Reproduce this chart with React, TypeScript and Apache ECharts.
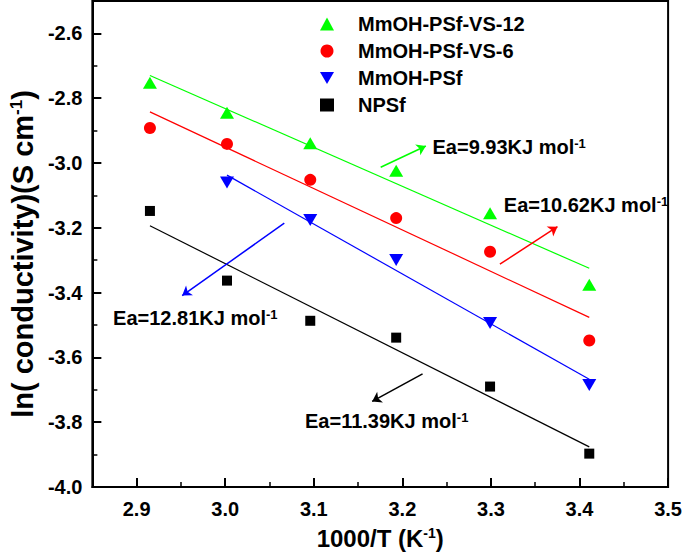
import React, { useEffect, useRef } from 'react';
import * as echarts from 'echarts';

const FONT = "'Liberation Sans', Arial, Helvetica, sans-serif";

// 1000/T values (K^-1)
const xValues = [2.915, 3.002, 3.096, 3.193, 3.299, 3.411];
const xValuesMmOH = [3.002, 3.096, 3.193, 3.299, 3.411];

// ln(conductivity) values
const vs12Values = [-2.752, -2.845, -2.939, -3.024, -3.155, -3.376];
const vs6Values = [-2.892, -2.941, -3.052, -3.170, -3.274, -3.548];
const mmohValues = [-3.060, -3.176, -3.299, -3.494, -3.685];
const npsfValues = [-3.148, -3.363, -3.487, -3.539, -3.690, -3.897];

const seriesNames = ['MmOH-PSf-VS-12', 'MmOH-PSf-VS-6', 'MmOH-PSf', 'NPSf'];
const seriesColors = ['#00ff00', '#ff0000', '#0000ff', '#000000'];

// Activation energy annotations
const eaTexts = ['Ea=9.93KJ mol', 'Ea=10.62KJ mol', 'Ea=12.81KJ mol', 'Ea=11.39KJ mol'];
// arrow start / end in data coordinates
const arrowCoords = [
  [[3.1755, -3.0132], [3.2265, -2.9475]],
  [[3.3101, -3.3123], [3.3751, -3.1964]],
  [[3.0667, -3.1859], [2.9514, -3.4091]],
  [[3.2228, -3.6506], [3.1659, -3.736]],
];
// label anchor (left, middle) in data coordinates
const eaLabelCoords = [
  [3.234, -2.9515],
  [3.3145, -3.1295],
  [2.8734, -3.4788],
  [3.0901, -3.7955],
];

function fit(xs: number[], ys: number[]): number[][] {
  const n = xs.length;
  const mx = xs.reduce((a, b) => a + b, 0) / n;
  const my = ys.reduce((a, b) => a + b, 0) / n;
  let sxy = 0;
  let sxx = 0;
  for (let i = 0; i < n; i++) {
    sxy += (xs[i] - mx) * (ys[i] - my);
    sxx += (xs[i] - mx) * (xs[i] - mx);
  }
  const k = sxy / sxx;
  const b = my - k * mx;
  const x0 = xs[0];
  const x1 = xs[n - 1];
  return [[x0, k * x0 + b], [x1, k * x1 + b]];
}

const makeSup = (size: number) => ({
  sup: {
    fontSize: size,
    fontWeight: 'bold',
    fontFamily: FONT,
    color: '#000',
    verticalAlign: 'top',
    lineHeight: size,
  },
});

export default function App() {
  const ref = useRef<HTMLDivElement>(null);

  useEffect(() => {
    if (!ref.current) return;
    const chart = echarts.init(ref.current, undefined, { renderer: 'svg' });

    const xsList = [xValues, xValues, xValuesMmOH, xValues];
    const ysList = [vs12Values, vs6Values, mmohValues, npsfValues];
    const symbols = ['triangle', 'circle', 'triangle', 'rect'];
    const sizes: any[] = [[14, 12], 12, [14, 12], 10];
    const rotates = [0, 0, 180, 0];
    const legendIcons = ['triangle', 'circle', 'path://M0,0L14,0L7,12Z', 'rect'];

    const scatterSeries = seriesNames.map((name, i) => ({
      name,
      type: 'scatter',
      symbol: symbols[i],
      symbolSize: sizes[i],
      symbolRotate: rotates[i],
      itemStyle: { color: seriesColors[i], opacity: 1 },
      z: 5,
      data: xsList[i].map((x, j) => [x, ysList[i][j]]),
    }));

    const fitSeries = seriesNames.map((name, i) => ({
      name: name + ' fit',
      type: 'line',
      showSymbol: false,
      symbol: 'none',
      lineStyle: { color: seriesColors[i], width: 1.2 },
      z: 3,
      data: fit(xsList[i], ysList[i]),
      markLine: {
        silent: true,
        symbol: ['none', 'arrow'],
        symbolSize: 9,
        lineStyle: { color: seriesColors[i], width: 1.5, type: 'solid' },
        label: { show: false },
        emphasis: { disabled: true },
        data: [[{ coord: arrowCoords[i][0] }, { coord: arrowCoords[i][1] }]],
      },
    }));

    const axisLabelStyle = {
      color: '#000',
      fontSize: 20,
      fontWeight: 'bold',
      fontFamily: FONT,
    };

    chart.setOption({
      animation: false,
      backgroundColor: '#fff',
      grid: {
        left: 87,
        right: 14.5,
        top: 1,
        bottom: 68,
        show: true,
        borderColor: '#000',
        borderWidth: 2,
      },
      legend: {
        orient: 'vertical',
        left: 315,
        top: 9,
        itemWidth: 14,
        itemHeight: 13,
        itemGap: 7,
        selectedMode: false,
        data: seriesNames.map((name, i) => ({ name, icon: legendIcons[i] })),
        textStyle: {
          color: '#000',
          fontSize: 20,
          fontWeight: 'bold',
          fontFamily: FONT,
          padding: [0, 0, 0, 19],
        },
      },
      xAxis: [
        {
          type: 'value',
          min: 2.85,
          max: 3.5,
          splitNumber: 5,
          position: 'bottom',
          axisLine: { show: true, onZero: false, lineStyle: { color: '#000', width: 2 } },
          axisTick: { show: true, inside: true, length: 9, lineStyle: { color: '#000', width: 2 } },
          axisLabel: {
            ...axisLabelStyle,
            showMinLabel: false,
            margin: 12,
            formatter: (v: number) => v.toFixed(1),
          },
          splitLine: { show: false },
          name: '1000/T (K{sup|-1})',
          nameLocation: 'middle',
          nameGap: 39,
          nameTextStyle: {
            color: '#000',
            fontSize: 24,
            fontWeight: 'bold',
            fontFamily: FONT,
            rich: makeSup(14),
          },
        },
        {
          type: 'value',
          min: 2.85,
          max: 3.5,
          interval: 0.05,
          position: 'bottom',
          axisLine: { show: false, onZero: false },
          axisTick: { show: true, inside: true, length: 5, lineStyle: { color: '#000', width: 1.5 } },
          axisLabel: { show: false },
          splitLine: { show: false },
        },
      ],
      yAxis: [
        {
          type: 'value',
          min: -4.0,
          max: -2.5,
          interval: 0.2,
          position: 'left',
          axisLine: { show: true, onZero: false, lineStyle: { color: '#000', width: 2 } },
          axisTick: { show: true, inside: true, length: 9, lineStyle: { color: '#000', width: 2 } },
          axisLabel: {
            ...axisLabelStyle,
            showMaxLabel: false,
            margin: 10,
            formatter: (v: number) => v.toFixed(1),
          },
          splitLine: { show: false },
          name: 'ln( conductivity)(S cm{sup|-1})',
          nameLocation: 'middle',
          nameRotate: 90,
          nameGap: 53,
          nameTextStyle: {
            color: '#000',
            fontSize: 29,
            fontWeight: 'bold',
            fontFamily: FONT,
            padding: [0, 20, 0, 0],
            rich: makeSup(17),
          },
        },
        {
          type: 'value',
          min: -4.0,
          max: -2.5,
          interval: 0.1,
          position: 'left',
          axisLine: { show: false, onZero: false },
          axisTick: { show: true, inside: true, length: 5, lineStyle: { color: '#000', width: 1.5 } },
          axisLabel: { show: false },
          splitLine: { show: false },
        },
      ],
      series: [...fitSeries, ...scatterSeries],
    });

    const graphics = eaTexts.map((t, i) => {
      const p = chart.convertToPixel({ gridIndex: 0 }, eaLabelCoords[i]) as number[];
      return {
        type: 'text',
        x: p[0],
        y: p[1],
        z: 10,
        style: {
          text: t + '{sup|-1}',
          fill: '#000',
          fontSize: 20,
          fontWeight: 'bold',
          fontFamily: FONT,
          align: 'left',
          verticalAlign: 'middle',
          rich: makeSup(13),
        },
      };
    });
    chart.setOption({ graphic: graphics });

    return () => chart.dispose();
  }, []);

  return (
    <div
      ref={ref}
      style={{ position: 'fixed', left: 0, top: 0, width: 685, height: 555, background: '#fff' }}
    />
  );
}
